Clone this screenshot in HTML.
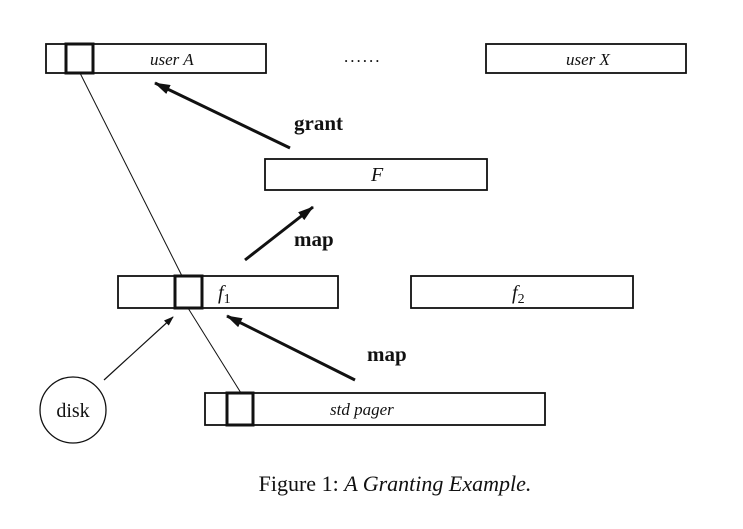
<!DOCTYPE html>
<html><head><meta charset="utf-8"><style>
html,body{margin:0;padding:0;background:#fff;width:743px;height:529px;overflow:hidden}
svg{display:block}
text{font-family:"Liberation Serif",serif;fill:#111}
</style></head><body>
<svg width="743" height="529" viewBox="0 0 743 529">
<defs>
<marker id="ah2" markerWidth="16" markerHeight="10" refX="15" refY="5" orient="auto" markerUnits="userSpaceOnUse"><path d="M0,0 L16,5 L0,10 Z" fill="#111"/></marker>
<marker id="ah3" markerWidth="10" markerHeight="7" refX="9" refY="3.5" orient="auto" markerUnits="userSpaceOnUse"><path d="M0,0 L10,3.5 L0,7 Z" fill="#111"/></marker></defs>
<g stroke="#111" fill="none" stroke-width="1.8">
<rect x="46" y="44" width="220" height="29"/>
<rect x="66" y="44" width="27" height="29" stroke-width="3"/>
<rect x="486" y="44" width="200" height="29"/>
<rect x="265" y="159" width="222" height="31"/>
<rect x="118" y="276" width="220" height="32"/>
<rect x="175" y="276" width="27" height="32" stroke-width="3"/>
<rect x="411" y="276" width="222" height="32"/>
<rect x="205" y="393" width="340" height="32"/>
<rect x="227" y="393" width="26" height="32" stroke-width="3"/>
<circle cx="73" cy="410" r="33" stroke-width="1.3"/>
<line x1="80" y1="73" x2="182" y2="276" stroke-width="1"/>
<line x1="188" y1="308" x2="241" y2="393" stroke-width="1"/>
<line x1="290" y1="148" x2="155" y2="83" stroke-width="3" marker-end="url(#ah2)"/>
<line x1="245" y1="260" x2="313" y2="207" stroke-width="3" marker-end="url(#ah2)"/>
<line x1="355" y1="380" x2="227" y2="316" stroke-width="3" marker-end="url(#ah2)"/>
<line x1="104" y1="380" x2="173" y2="317" stroke-width="1.2" marker-end="url(#ah3)"/>
</g>
<text x="150" y="65" font-size="17" font-style="italic">user A</text>
<text x="344" y="62" font-size="17" letter-spacing="2">......</text>
<text x="566" y="65" font-size="17" font-style="italic">user X</text>
<text x="371" y="181" font-size="20" font-style="italic">F</text>
<text x="218" y="299" font-size="20" font-style="italic">f<tspan font-size="14" dy="4" font-style="normal">1</tspan></text>
<text x="512" y="299" font-size="20" font-style="italic">f<tspan font-size="14" dy="4" font-style="normal">2</tspan></text>
<text x="330" y="415" font-size="17" font-style="italic">std pager</text>
<text x="73" y="417" font-size="20" text-anchor="middle">disk</text>
<text x="294" y="130" font-size="21" font-weight="bold">grant</text>
<text x="294" y="246" font-size="21" font-weight="bold">map</text>
<text x="367" y="361" font-size="21" font-weight="bold">map</text>
<text x="395" y="491" font-size="22" text-anchor="middle">Figure 1: <tspan font-style="italic">A Granting Example.</tspan></text>
</svg>
</body></html>
